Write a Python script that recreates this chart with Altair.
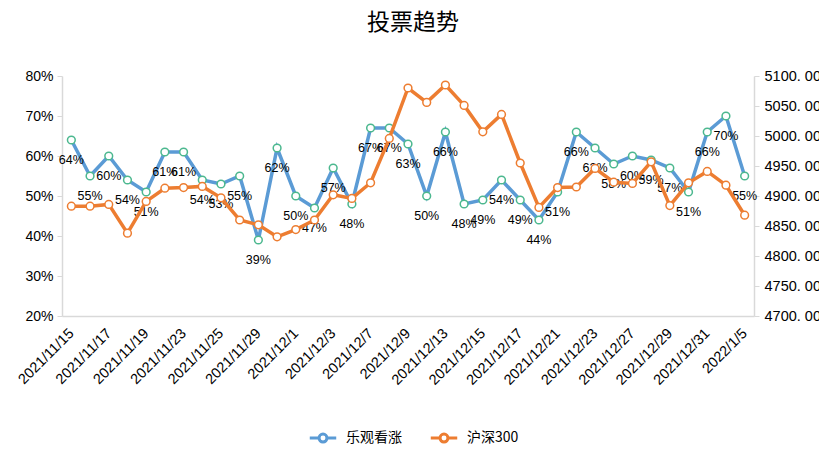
import altair as alt
import pandas as pd

dates = ["2021/11/15", "2021/11/16", "2021/11/17", "2021/11/18", "2021/11/19",
         "2021/11/22", "2021/11/23", "2021/11/24", "2021/11/25", "2021/11/26",
         "2021/11/29", "2021/11/30", "2021/12/1", "2021/12/2", "2021/12/3",
         "2021/12/6", "2021/12/7", "2021/12/8", "2021/12/9", "2021/12/10",
         "2021/12/13", "2021/12/14", "2021/12/15", "2021/12/16", "2021/12/17",
         "2021/12/20", "2021/12/21", "2021/12/22", "2021/12/23", "2021/12/24",
         "2021/12/27", "2021/12/28", "2021/12/29", "2021/12/30", "2021/12/31",
         "2022/1/4", "2022/1/5"]

bullish = [64, 55, 60, 54, 51, 61, 61, 54, 53, 55, 39, 62, 50, 47, 57, 48, 67, 67,
           63, 50, 66, 48, 49, 54, 49, 44, 51, 66, 62, 58, 60, 59, 57, 51, 66, 70, 55]

hs300 = [4883, 4883, 4886, 4838, 4891, 4913, 4914, 4916, 4897, 4860, 4852, 4832,
         4844, 4860, 4902, 4896, 4922, 4996, 5080, 5056, 5085, 5051, 5007, 5036,
         4955, 4881, 4914, 4915, 4946, 4923, 4921, 4957, 4884, 4922, 4941, 4918, 4868]

tick_dates = dates[::2]
series_names = ["乐观看涨", "沪深300"]

df = pd.DataFrame({"date": dates, "bullish": bullish, "hs300": hs300,
                   "s1": series_names[0], "s2": series_names[1]})

FONT = "Liberation Sans"
CJK = "Noto Sans CJK SC"
BLUE = "#5B9BD5"
ORANGE = "#ED7D31"
GREEN = "#4CB88F"
GRID = "#D9D9D9"

x = alt.X("date:N", sort=dates, title=None,
          scale=alt.Scale(type="point", padding=0.5),
          axis=alt.Axis(values=tick_dates, labelAngle=-45, labelFontSize=14.5,
                        labelFont=FONT, labelColor="#000000", ticks=False,
                        domainColor=GRID, domainWidth=1.5, labelPadding=15,
                        labelAlign="right", labelBaseline="middle"))

yl = alt.Y("bullish:Q", title=None,
           scale=alt.Scale(domain=[20, 80], nice=False, zero=False),
           axis=alt.Axis(values=[20, 30, 40, 50, 60, 70, 80], labelExpr="datum.value + '%'",
                         labelFontSize=14, labelFont=FONT, labelColor="#000000",
                         domainColor=GRID, domainWidth=1.5, tickColor=GRID, tickSize=5,
                         labelPadding=4, grid=False))

yr = alt.Y("hs300:Q", title=None,
           scale=alt.Scale(domain=[4700, 5100], nice=False, zero=False),
           axis=alt.Axis(orient="right", values=list(range(4700, 5101, 50)),
                         labelExpr="replace(format(datum.value, '.2f'), '.', '. ')",
                         labelFontSize=14.5, labelFont=FONT, labelColor="#000000",
                         domainColor=GRID, domainWidth=1.5, tickColor=GRID, tickSize=5,
                         labelPadding=5, grid=False))

legend = alt.Legend(orient="none", legendX=246, legendY=347, direction="horizontal",
                    labelFont=CJK, labelFontSize=14, labelColor="#000000",
                    symbolType="M-1,0L-0.3,0M0.3,0L1,0M-0.3,0A0.3,0.3,0,1,1,0.3,0A0.3,0.3,0,1,1,-0.3,0Z",
                    symbolSize=700, symbolStrokeWidth=3, symbolFillColor="white",
                    columnPadding=22, labelOffset=8)
cscale = alt.Scale(domain=series_names, range=[BLUE, ORANGE])

base = alt.Chart(df)

blue_line = base.mark_line(strokeWidth=3.5).encode(
    x=x, y=yl, color=alt.Color("s1:N", scale=cscale, title=None, legend=legend))
blue_pts = base.mark_point(filled=True, fill="white", stroke=GREEN, strokeWidth=1.5,
                           size=60, opacity=1).encode(x=x, y=yl)
blue_txt = base.transform_calculate(lbl="datum.bullish + '%'").mark_text(
    dy=20, fontSize=12.5, font=FONT, color="#000000").encode(x=x, y=yl, text="lbl:N")

orange_line = base.mark_line(strokeWidth=3.5).encode(
    x=x, y=yr, color=alt.Color("s2:N", scale=cscale, title=None, legend=legend))
orange_pts = base.mark_point(filled=True, fill="white", stroke=ORANGE, strokeWidth=1.5,
                             size=60, opacity=1).encode(x=x, y=yr)

left = alt.layer(blue_line, blue_pts, blue_txt)
right = alt.layer(orange_line, orange_pts)

chart = alt.layer(left, right).resolve_scale(y="independent").properties(
    width=692, height=240,
    padding={"left": 54, "top": 68, "right": 65, "bottom": 149},
    autosize=alt.AutoSizeParams(type="none"),
    title=alt.TitleParams("投票趋势", font=CJK, fontSize=23, fontWeight="normal",
                          color="#000000", anchor="middle", offset=33, dx=5),
).configure_view(stroke=None)

chart.save("out.html", embed_options={"renderer": "svg", "actions": False})
